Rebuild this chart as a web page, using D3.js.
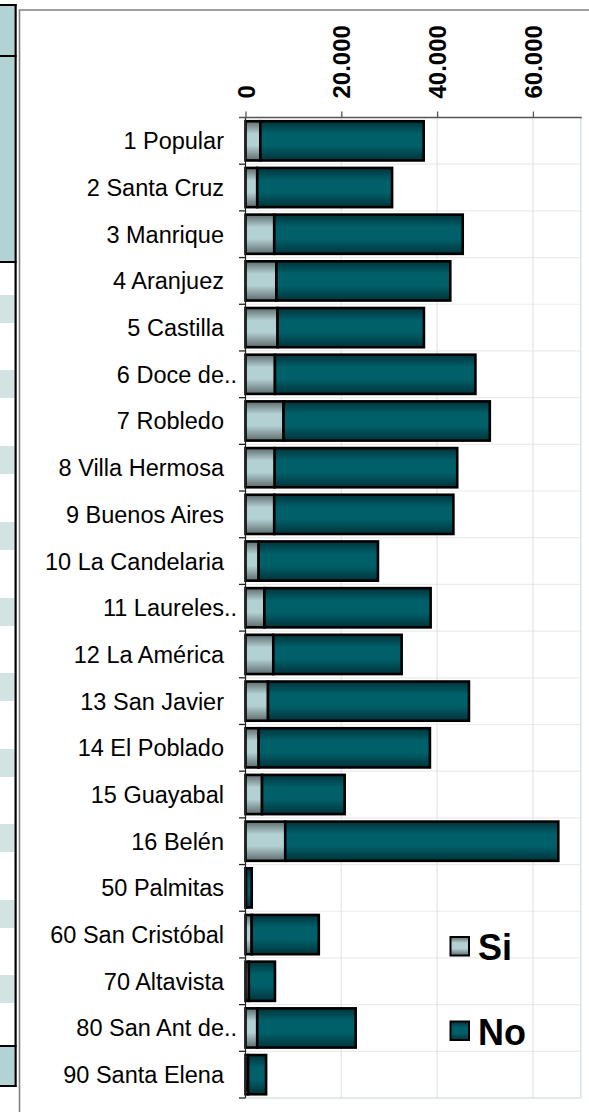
<!DOCTYPE html>
<html>
<head>
<meta charset="utf-8">
<script src="https://cdn.jsdelivr.net/npm/d3@7/dist/d3.min.js"></script>
<style>
  html, body { margin: 0; padding: 0; background: #fff; }
  svg { display: block; font-family: "Liberation Sans", Arial, sans-serif; }
</style>
</head>
<body>
<svg id="chart" width="589" height="1112"></svg>
<script>
// Comunas / corregimientos
const categories = ["1 Popular", "2 Santa Cruz", "3 Manrique", "4 Aranjuez", "5 Castilla",
  "6 Doce de..", "7 Robledo", "8 Villa Hermosa", "9 Buenos Aires", "10 La Candelaria",
  "11 Laureles..", "12 La América", "13 San Javier", "14 El Poblado", "15 Guayabal",
  "16 Belén", "50 Palmitas", "60 San Cristóbal", "70 Altavista", "80 San Ant de..",
  "90 Santa Elena"];
// Series "Si"
const siValues = [3100, 2450, 6000, 6450, 6700, 6150, 7950, 6100, 6000, 2750,
  3950, 5800, 4700, 2750, 3450, 8300, 100, 1300, 700, 2450, 550];
// Series "No"
const noValues = [34100, 28150, 39350, 36300, 30550, 41850, 43050, 38100, 37400, 24900,
  34700, 26800, 41950, 35750, 17250, 57000, 1200, 14000, 5450, 20550, 3750];
const seriesNames = ["Si", "No"];
const tickValues = [0, 20000, 40000, 60000];

const svg = d3.select("#chart");
const plot = { left: 245.5, right: 580.8, top: 117.5, bottom: 1098 };

// table strip at the left edge of the page
const strip = svg.append("g");
const lightRows = [295, 370, 446, 522, 598, 673, 749, 824, 900, 975];
strip.selectAll("rect.light").data(lightRows).join("rect")
  .attr("class", "light").attr("x", 0).attr("width", 14.5)
  .attr("y", d => d).attr("height", 28).attr("fill", "#d2e3e3");
[[6, 49], [57, 204], [1047, 38]].forEach(([y0, h]) => {
  strip.append("rect").attr("x", 0).attr("y", y0).attr("width", 14.5).attr("height", h)
    .attr("fill", "#b3d2d3");
});
[5, 56, 262, 1046, 1086].forEach(y0 => {
  strip.append("rect").attr("x", 0).attr("y", y0 - 1).attr("width", 16.5).attr("height", 2)
    .attr("fill", "#000");
});
strip.append("rect").attr("x", 14.5).attr("y", 4).attr("width", 2.2).attr("height", 1083)
  .attr("fill", "#000");

// chart frame
svg.append("path").attr("d", "M19.5,1112 V10 H589")
  .attr("fill", "none").attr("stroke", "#808080").attr("stroke-width", 1.6);

// gradients
const defs = svg.append("defs");
function grad(id, edge, mid) {
  const g = defs.append("linearGradient").attr("id", id)
    .attr("x1", 0).attr("y1", 0).attr("x2", 0).attr("y2", 1);
  [[0, edge], [0.32, mid], [0.62, mid], [1, edge]].forEach(([o, c]) =>
    g.append("stop").attr("offset", o).attr("stop-color", c));
}
grad("gSi", "#5f6c6d", "#b3d0d2");
grad("gNo", "#00333a", "#00606a");
const fills = { Si: "url(#gSi)", No: "url(#gNo)" };

const x = d3.scaleLinear().domain([0, 70000]).range([plot.left, plot.right]);
const y = d3.scaleBand().domain(categories).range([plot.top, plot.bottom])
  .paddingInner(0.16).paddingOuter(0.08);
const step = y.step();

// grid
const grid = svg.append("g");
grid.selectAll("line.h").data(d3.range(1, categories.length)).join("line")
  .attr("x1", plot.left).attr("x2", plot.right)
  .attr("y1", i => plot.top + i * step).attr("y2", i => plot.top + i * step)
  .attr("stroke", "#ebebeb").attr("stroke-width", 1.2);
grid.selectAll("line.v").data(tickValues.slice(1)).join("line")
  .attr("x1", d => x(d)).attr("x2", d => x(d))
  .attr("y1", plot.top).attr("y2", plot.bottom)
  .attr("stroke", "#e6e6e6").attr("stroke-width", 1.2);
svg.append("path")
  .attr("d", `M${plot.right},${plot.top} V${plot.bottom} H${plot.left}`)
  .attr("fill", "none").attr("stroke", "#d6e4e4").attr("stroke-width", 1.5);

// stacked bars
const rows = categories.map((c, i) => ({ cat: c, Si: siValues[i], No: noValues[i] }));
const stacked = d3.stack().keys(seriesNames)(rows);
svg.append("g").selectAll("g").data(stacked).join("g")
  .attr("fill", s => fills[s.key])
  .selectAll("rect").data(s => s).join("rect")
  .attr("x", d => x(d[0]))
  .attr("width", d => x(d[1]) - x(d[0]))
  .attr("y", d => y(d.data.cat))
  .attr("height", y.bandwidth())
  .attr("stroke", "#000").attr("stroke-width", 2.6);

// left axis with ticks between categories
const la = svg.append("g");
la.append("line").attr("x1", plot.left).attr("x2", plot.left)
  .attr("y1", plot.top).attr("y2", plot.bottom).attr("stroke", "#222").attr("stroke-width", 1.2);
la.selectAll("line.t").data(d3.range(1, categories.length + 1)).join("line")
  .attr("x1", plot.left - 6.5).attr("x2", plot.left)
  .attr("y1", i => plot.top + i * step).attr("y2", i => plot.top + i * step)
  .attr("stroke", "#222").attr("stroke-width", 1.3);

// category labels
const labels = svg.append("g").attr("font-size", 23.5).attr("fill", "#000");
categories.forEach(c => {
  const t = labels.append("text").attr("x", 224)
    .attr("y", y(c) + y.bandwidth() / 2).attr("dy", "0.36em").attr("text-anchor", "end");
  if (c.endsWith("..")) {
    t.append("tspan").text(c.slice(0, -2));
    t.append("tspan").attr("x", 224).attr("text-anchor", "start").text("..");
  } else {
    t.text(c);
  }
});

// top value axis
const fmt = d3.formatLocale({ decimal: ",", thousands: ".", grouping: [3], currency: ["$", ""] }).format(",");
const axis = d3.axisTop(x).tickValues(tickValues).tickSize(6).tickSizeOuter(0).tickFormat(fmt);
const ag = svg.append("g").attr("transform", `translate(0,${plot.top})`).call(axis);
ag.select(".domain").remove();
ag.append("line").attr("x1", 239).attr("x2", plot.right + 1).attr("y1", 0).attr("y2", 0)
  .attr("stroke", "#555").attr("stroke-width", 1.3);
ag.selectAll(".tick line").attr("stroke", "#555").attr("stroke-width", 1.3);
ag.selectAll(".tick text")
  .attr("font-family", "'Liberation Sans', Arial, sans-serif")
  .attr("font-size", 24).attr("font-weight", "bold").attr("fill", "#000")
  .attr("transform", "rotate(-90)")
  .attr("x", 19).attr("y", 0).attr("dy", "0.36em")
  .attr("text-anchor", "start");

// legend
const lg = svg.append("g");
seriesNames.forEach((name, i) => {
  const gy = 937 + i * 84.5;
  lg.append("rect").attr("x", 450.5).attr("y", gy).attr("width", 18.5).attr("height", 18.5)
    .attr("fill", fills[name]).attr("stroke", "#000").attr("stroke-width", 2);
  lg.append("text").attr("x", 478).attr("y", gy + 23).attr("font-size", 36)
    .attr("font-weight", "bold").attr("fill", "#000").text(name);
});
</script>
</body>
</html>
